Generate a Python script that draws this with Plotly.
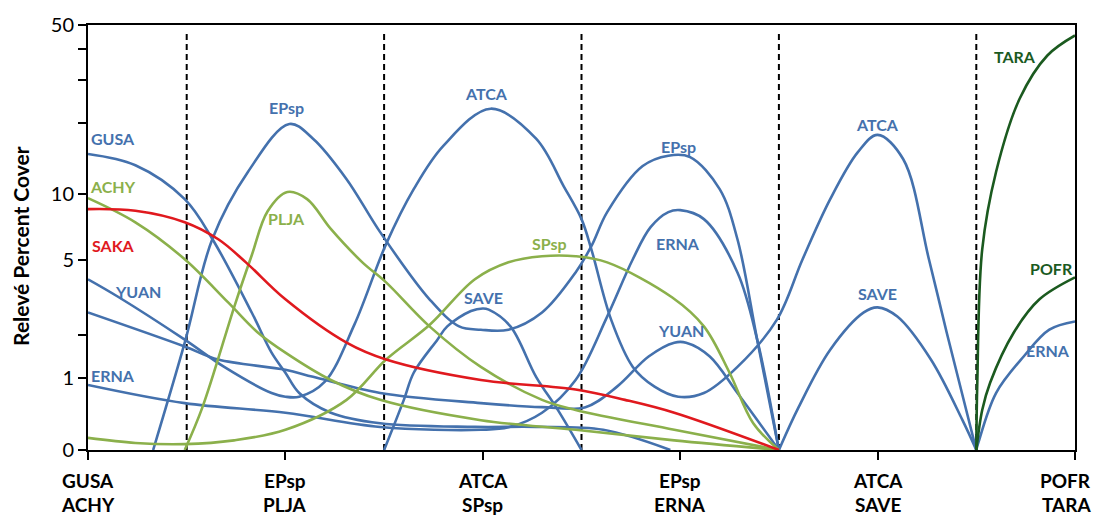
import numpy as np
import plotly.graph_objects as go

# ---------------- data (percent cover along the gradient; 0..5 = the six groups) -------------
cat_top = ["GUSA", "EPsp", "ATCA", "EPsp", "ATCA", "POFR"]
cat_bottom = ["ACHY", "PLJA", "SPsp", "ERNA", "SAVE", "TARA"]
group_boundaries = [0.5, 1.5, 2.5, 3.5, 4.5]
y_tick_values = [0, 1, 2, 5, 10, 20, 30, 40, 50]
y_tick_labels = ["0", "1", "", "5", "10", "", "", "", "50"]

gusa_pos = [0, 0.24, 0.49, 0.63, 0.83, 0.93, 1.0, 1.07, 1.23, 1.48, 1.96, 2.27, 2.61, 2.95]
gusa_cover = [14.85, 13.3, 9.5, 6.3, 2.7, 1.55, 1.11, 0.74, 0.44, 0.30, 0.255, 0.255, 0.22, 0]

yuan_atca_pos = [0, 0.15, 0.49, 0.69, 0.93, 1.0, 1.07, 1.2, 1.35, 1.51, 1.65, 1.8, 2.04, 2.27, 2.41,
                 2.5, 2.55, 2.65, 2.76, 2.87, 2.99, 3.12, 3.29, 3.49, 3.62, 3.76, 3.9, 4.0, 4.13, 4.26, 4.35, 4.5]
yuan_atca_cover = [4.04, 3.30, 1.88, 1.23, 0.74, 0.68, 0.68, 0.94, 2.32, 5.96, 10.5, 16.06, 22.9, 17.2, 10.8,
                   7.75, 5.64, 2.47, 1.23, 0.85, 0.68, 0.74, 1.23, 2.47, 5.06, 9.5, 15.1, 17.85, 14.1, 5.06, 2.08, 0]

epsp_pos = [0.33, 0.49, 0.63, 0.81, 1.02, 1.14, 1.31, 1.48, 1.73, 1.88, 1.99, 2.13, 2.30, 2.47,
            2.55, 2.63, 2.81, 2.94, 3.05, 3.2, 3.29, 3.39, 3.5]
epsp_cover = [0, 1.8, 6.3, 12.45, 19.8, 17.2, 11.6, 6.77, 3.19, 2.26, 2.16, 2.16, 2.71, 4.37,
              5.83, 8.33, 13.2, 14.6, 14.4, 10.5, 6.28, 1.88, 0]

save_a_pos = [1.5, 1.6, 1.65, 1.77, 1.82, 1.94, 2.0, 2.03, 2.14, 2.27, 2.38, 2.5]
save_a_cover = [0, 0.63, 1.11, 1.88, 2.26, 2.76, 2.85, 2.81, 2.26, 1.03, 0.48, 0]

save_b_pos = [3.5, 3.6, 3.76, 3.93, 4.0, 4.1, 4.27, 4.43, 4.5]
save_b_cover = [0, 0.52, 1.62, 2.71, 2.89, 2.57, 1.39, 0.34, 0]

erna_pos = [0, 0.49, 1.0, 1.48, 1.99, 2.13, 2.30, 2.47, 2.63, 2.76, 2.85, 2.94, 3.0, 3.12, 3.29, 3.39, 3.5]
erna_cover = [0.88, 0.58, 0.44, 0.255, 0.22, 0.25, 0.44, 0.97, 2.57, 5.06, 7.13, 8.33, 8.5, 7.75, 4.37, 1.88, 0]

yuan_pos = [0, 0.49, 0.66, 1.0, 1.14, 1.48, 1.99, 2.3, 2.52, 2.68, 2.84, 2.97, 3.03, 3.15, 3.29, 3.5]
yuan_cover = [2.71, 1.70, 1.39, 1.17, 1.03, 0.74, 0.58, 0.52, 0.52, 0.85, 1.46, 1.80, 1.80, 1.46, 0.74, 0]

erna_end_pos = [4.5, 4.51, 4.6, 4.74, 4.87, 5.0]
erna_end_cover = [0, 0.072, 0.74, 1.46, 2.16, 2.41]

achy_pos = [0, 0.24, 0.49, 0.71, 0.86, 1.0, 1.23, 1.48, 1.99, 2.47, 2.97, 3.5]
achy_cover = [9.6, 7.5, 5.06, 3.07, 2.08, 1.55, 0.97, 0.63, 0.34, 0.22, 0.10, 0]

plja_pos = [0.49, 0.58, 0.745, 0.83, 0.91, 1.01, 1.11, 1.23, 1.39, 1.51, 1.73, 1.99, 2.3, 2.47, 2.97, 3.5]
plja_cover = [0, 0.52, 3.0, 5.3, 8.4, 10.2, 9.5, 7.0, 4.89, 3.9, 2.26, 1.23, 0.63, 0.48, 0.22, 0]

spsp_pos = [0, 0.24, 0.49, 0.74, 1.0, 1.31, 1.51, 1.73, 1.96, 2.13, 2.3, 2.47, 2.63, 2.96, 3.12, 3.25, 3.37, 3.5]
spsp_cover = [0.127, 0.072, 0.06, 0.10, 0.22, 0.63, 1.39, 2.3, 4.04, 4.89, 5.23, 5.23, 4.89, 3.26, 2.26, 1.11, 0.30, 0]

saka_pos = [0, 0.24, 0.49, 0.66, 0.8, 1.0, 1.31, 1.51, 1.99, 2.47, 2.72, 2.97, 3.5]
saka_cover = [8.59, 8.45, 7.51, 6.28, 4.89, 3.19, 1.80, 1.39, 0.97, 0.80, 0.63, 0.44, 0]

tara_pos = [4.5, 4.505, 4.53, 4.6, 4.72, 4.86, 5.0]
tara_cover = [0, 0.92, 5.64, 12.45, 25.2, 37.7, 45.4]

pofr_pos = [4.5, 4.53, 4.57, 4.69, 4.82, 5.0]
pofr_cover = [0, 0.48, 0.92, 2.08, 3.19, 4.13]

# curve labels
label_text = ["GUSA", "ACHY", "SAKA", "YUAN", "ERNA", "EPsp", "PLJA", "ATCA", "SAVE", "SPsp",
              "EPsp", "ERNA", "YUAN", "ATCA", "SAVE", "TARA", "POFR", "ERNA"]
label_x = [0.127, 0.127, 0.127, 0.253, 0.127, 1.008, 1.008, 2.021, 2.006, 2.34,
           2.989, 2.989, 3.004, 3.997, 3.997, 4.696, 4.883, 4.863]
label_y = [0.732, 0.621, 0.482, 0.374, 0.176, 0.805, 0.544, 0.840, 0.360, 0.487,
           0.715, 0.487, 0.282, 0.765, 0.369, 0.925, 0.428, 0.235]
label_col = ["blue", "green", "red", "blue", "blue", "blue", "green", "blue", "blue", "green",
             "blue", "blue", "blue", "blue", "blue", "dgreen", "dgreen", "blue"]

COLORS = {"blue": "#4471AD", "green": "#8BB04B", "red": "#E0191E", "dgreen": "#1B5A1F"}
FONT = "Lato"
C = 1.1


def tr(v):
    v = np.asarray(v, dtype=float)
    return np.log10(v + C) - np.log10(C)


series = [
    (gusa_pos, gusa_cover, "blue"),
    (yuan_atca_pos, yuan_atca_cover, "blue"),
    (epsp_pos, epsp_cover, "blue"),
    (save_a_pos, save_a_cover, "blue"),
    (save_b_pos, save_b_cover, "blue"),
    (erna_pos, erna_cover, "blue"),
    (yuan_pos, yuan_cover, "blue"),
    (erna_end_pos, erna_end_cover, "blue"),
    (achy_pos, achy_cover, "green"),
    (plja_pos, plja_cover, "green"),
    (spsp_pos, spsp_cover, "green"),
    (saka_pos, saka_cover, "red"),
    (tara_pos, tara_cover, "dgreen"),
    (pofr_pos, pofr_cover, "dgreen"),
]

fig = go.Figure()
for xs, vs, ck in series:
    fig.add_trace(go.Scatter(x=xs, y=tr(vs), mode="lines",
                             line=dict(color=COLORS[ck], width=2.6, shape="spline", smoothing=1.0),
                             showlegend=False, hoverinfo="skip"))

for b in group_boundaries:
    fig.add_shape(type="line", xref="x", yref="paper", x0=b, x1=b, y0=0, y1=0.988,
                  line=dict(color="black", width=2, dash="6px,4px"), layer="below")

for t, x, y, ck in zip(label_text, label_x, label_y, label_col):
    fig.add_annotation(x=x, y=y, xref="x", yref="paper", text="<b>" + t + "</b>",
                       showarrow=False, font=dict(family=FONT, size=16, color=COLORS[ck]),
                       xanchor="center", yanchor="middle")

# category labels (two lines under each tick)
n_cat = len(cat_top)
for i, (a, b) in enumerate(zip(cat_top, cat_bottom)):
    last = i == n_cat - 1
    for txt, yy in ((a, -0.0706), (b, -0.129)):
        fig.add_annotation(x=i, y=yy, xref="x", yref="paper", text="<b>" + txt + "</b>",
                           showarrow=False, font=dict(family=FONT, size=19, color="black"),
                           xanchor="right" if last else "center",
                           xshift=18 if last else 0, yanchor="middle")

fig.add_annotation(x=-0.069, y=0.48, xref="paper", yref="paper", text="<b>Relevé Percent Cover</b>",
                   textangle=-90, showarrow=False, font=dict(family=FONT, size=21, color="black"),
                   xanchor="center", yanchor="middle")

fig.update_xaxes(range=[0, 5], tickmode="array", tickvals=list(range(n_cat)),
                 ticktext=[""] * n_cat,
                 ticks="outside", ticklen=8, tickwidth=2, tickcolor="black",
                 showline=True, linewidth=2, linecolor="black", mirror=True,
                 showgrid=False, zeroline=False)
fig.update_yaxes(range=[0, float(tr(50))], tickmode="array", tickvals=list(tr(y_tick_values)),
                 ticktext=y_tick_labels, ticks="outside", ticklen=8, tickwidth=2, tickcolor="black",
                 showline=True, linewidth=2, linecolor="black", mirror=True,
                 showgrid=False, zeroline=False,
                 tickfont=dict(family=FONT, size=20, color="black"))

fig.update_layout(width=1095, height=518, margin=dict(l=88, r=20, t=25, b=68),
                  plot_bgcolor="white", paper_bgcolor="white")

fig.write_html("out.html")
